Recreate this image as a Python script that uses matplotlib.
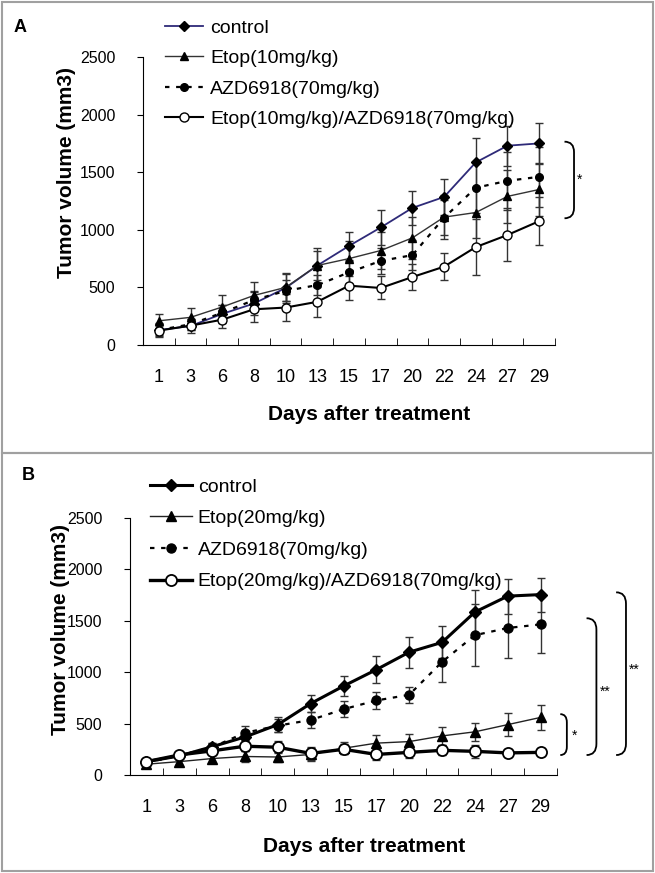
import matplotlib
matplotlib.use("Agg")
import matplotlib.pyplot as plt
from matplotlib.patches import Rectangle, PathPatch
from matplotlib.path import Path

plt.rcParams['font.family'] = ['Liberation Sans', 'DejaVu Sans']

# x categories (days after treatment)
days = ['1', '3', '6', '8', '10', '13', '15', '17', '20', '22', '24', '27', '29']

# panel A values (mm3)
ctrl_a = [130, 165, 270, 360, 495, 690, 860, 1020, 1190, 1285, 1585, 1730, 1750]
ctrl_a_err = [60, 60, 80, 100, 130, 150, 120, 150, 150, 160, 210, 175, 175]
etop_a = [210, 240, 330, 430, 500, 690, 750, 820, 930, 1110, 1150, 1290, 1350]
etop_a_err = [60, 80, 100, 120, 120, 130, 150, 160, 180, 190, 220, 230, 230]
azd_a = [130, 180, 280, 390, 470, 520, 630, 730, 780, 1105, 1365, 1425, 1460]
azd_a_err = [50, 50, 70, 80, 90, 90, 100, 110, 130, 150, 220, 250, 260]
combo_a = [125, 168, 220, 310, 325, 375, 515, 495, 590, 680, 850, 955, 1075]
combo_a_err = [40, 40, 70, 110, 120, 130, 125, 100, 110, 115, 245, 230, 210]

# panel B values (mm3)
ctrl_b = [130, 185, 275, 370, 490, 695, 865, 1025, 1195, 1290, 1585, 1740, 1755]
ctrl_b_err = [30, 30, 40, 60, 70, 80, 100, 130, 150, 155, 210, 170, 165]
etop_b = [105, 130, 160, 180, 175, 200, 260, 310, 325, 380, 420, 490, 560]
etop_b_err = [30, 30, 40, 50, 50, 60, 60, 75, 75, 85, 90, 110, 120]
azd_b = [120, 190, 270, 410, 480, 535, 640, 725, 780, 1100, 1360, 1430, 1465]
azd_b_err = [30, 30, 40, 70, 60, 80, 80, 80, 80, 195, 300, 290, 275]
combo_b = [130, 195, 235, 280, 270, 210, 250, 200, 220, 240, 230, 215, 220]
combo_b_err = [30, 30, 40, 50, 60, 60, 50, 50, 50, 50, 60, 40, 40]

labels_a = ['control', 'Etop(10mg/kg)', 'AZD6918(70mg/kg)', 'Etop(10mg/kg)/AZD6918(70mg/kg)']
labels_b = ['control', 'Etop(20mg/kg)', 'AZD6918(70mg/kg)', 'Etop(20mg/kg)/AZD6918(70mg/kg)']

W, H = 655, 873
fig = plt.figure(figsize=(W / 100, H / 100), dpi=100)

# gray panel frames
fig.add_artist(Rectangle((2 / W, 1 - 453 / H), 651 / W, 451 / H, transform=fig.transFigure,
                         fill=False, ec='#a0a0a0', lw=1.5))
fig.add_artist(Rectangle((2 / W, 2 / H), 651 / W, 418 / H, transform=fig.transFigure,
                         fill=False, ec='#a0a0a0', lw=1.5))


def brace(ax, x, y0, y1, w, h):
    verts = [(x, y1), (x + w, y1), (x + w, y1 - h), (x + w, y0 + h), (x + w, y0), (x, y0)]
    codes = [Path.MOVETO, Path.CURVE3, Path.CURVE3, Path.LINETO, Path.CURVE3, Path.CURVE3]
    ax.add_patch(PathPatch(Path(verts, codes), fill=False, lw=1.3, ec='black', clip_on=False))


def setup(ax, xlab, ylab):
    x = list(range(1, len(days) + 1))
    ax.set_xlim(0.5, len(days) + 0.5)
    ax.set_ylim(0, 2500)
    ax.set_yticks([0, 500, 1000, 1500, 2000, 2500])
    ax.set_xticks(x)
    ax.set_xticklabels(days, fontsize=13)
    ax.set_xticks([i + 0.5 for i in x], minor=True)
    ax.tick_params(axis='x', which='major', length=0, pad=17)
    ax.tick_params(axis='x', which='minor', direction='in', length=5)
    ax.tick_params(axis='y', direction='out', length=4, pad=16, labelsize=11.5)
    for s in ['top', 'right']:
        ax.spines[s].set_visible(False)
    ax.set_xlabel('Days after treatment', fontsize=15, fontweight='bold')
    ax.set_ylabel('Tumor volume (mm3)', fontsize=15, fontweight='bold')
    ax.xaxis.set_label_coords(*xlab)
    ax.yaxis.set_label_coords(*ylab)
    return x


eb = dict(fmt='none', capsize=3, elinewidth=1, ecolor='#333333', capthick=1)

# ---------------- panel A ----------------
axA = fig.add_axes([143 / W, 1 - 345 / H, 412 / W, 288 / H])
x = setup(axA, (0.549, -0.21), (-0.163, 0.60))
for vals, err in [(ctrl_a, ctrl_a_err), (etop_a, etop_a_err), (azd_a, azd_a_err), (combo_a, combo_a_err)]:
    axA.errorbar(x, vals, yerr=err, **eb)
axA.plot(x, ctrl_a, color='#2e2a78', lw=1.3, marker='D', ms=5, mfc='black', mec='black', label=labels_a[0])
axA.plot(x, etop_a, color='#333333', lw=1, marker='^', ms=6, mfc='black', mec='black', label=labels_a[1])
axA.plot(x, azd_a, color='black', lw=1.6, ls=(0, (2, 3)), marker='o', ms=5.5, mfc='black', mec='black',
         label=labels_a[2])
axA.plot(x, combo_a, color='black', lw=1.5, marker='o', ms=6.5, mfc='white', mec='black', label=labels_a[3])
axA.legend(loc='upper left', bbox_to_anchor=(165 / W, 1 - 19 / H), bbox_transform=fig.transFigure,
           frameon=False, fontsize=14, handlelength=1.95, handletextpad=0.36, labelspacing=0.66,
           borderaxespad=0, borderpad=0)
brace(axA, 13.8, 1100, 1765, 0.3, 90)
axA.text(14.2, 1430, '*', fontsize=10, va='center', ha='left', clip_on=False)

# ---------------- panel B ----------------
axB = fig.add_axes([130 / W, 1 - 775 / H, 427 / W, 257 / H])
x = setup(axB, (0.548, -0.24), (-0.14, 0.565))
for vals, err in [(ctrl_b, ctrl_b_err), (etop_b, etop_b_err), (azd_b, azd_b_err), (combo_b, combo_b_err)]:
    axB.errorbar(x, vals, yerr=err, **eb)
axB.plot(x, ctrl_b, color='black', lw=2.2, marker='D', ms=6, mfc='black', mec='black', label=labels_b[0])
axB.plot(x, etop_b, color='#222222', lw=1, marker='^', ms=7, mfc='black', mec='black', label=labels_b[1])
axB.plot(x, azd_b, color='black', lw=1.6, ls=(0, (2, 3)), marker='o', ms=6.5, mfc='black', mec='black',
         label=labels_b[2])
axB.plot(x, combo_b, color='black', lw=2.4, marker='o', ms=8, mfc='white', mec='black', mew=1.3,
         label=labels_b[3])
axB.legend(loc='upper left', bbox_to_anchor=(150 / W, 1 - 478 / H), bbox_transform=fig.transFigure,
           frameon=False, fontsize=14, handlelength=2.15, handletextpad=0.3, labelspacing=0.72,
           borderaxespad=0, borderpad=0)
brace(axB, 13.6, 194, 592, 0.2, 80)
axB.text(13.95, 380, '*', fontsize=10, va='center', ha='left', clip_on=False)
brace(axB, 14.4, 194, 1525, 0.3, 110)
axB.text(14.8, 810, '**', fontsize=10, va='center', ha='left', clip_on=False)
brace(axB, 15.3, 194, 1777, 0.3, 110)
axB.text(15.7, 1020, '**', fontsize=10, va='center', ha='left', clip_on=False)

fig.text(20 / W, 1 - 28 / H, 'A', fontsize=13, fontweight='bold', ha='center', va='center')
fig.text(28 / W, 1 - 476 / H, 'B', fontsize=13, fontweight='bold', ha='center', va='center')

fig.savefig('out.png', dpi=100)
